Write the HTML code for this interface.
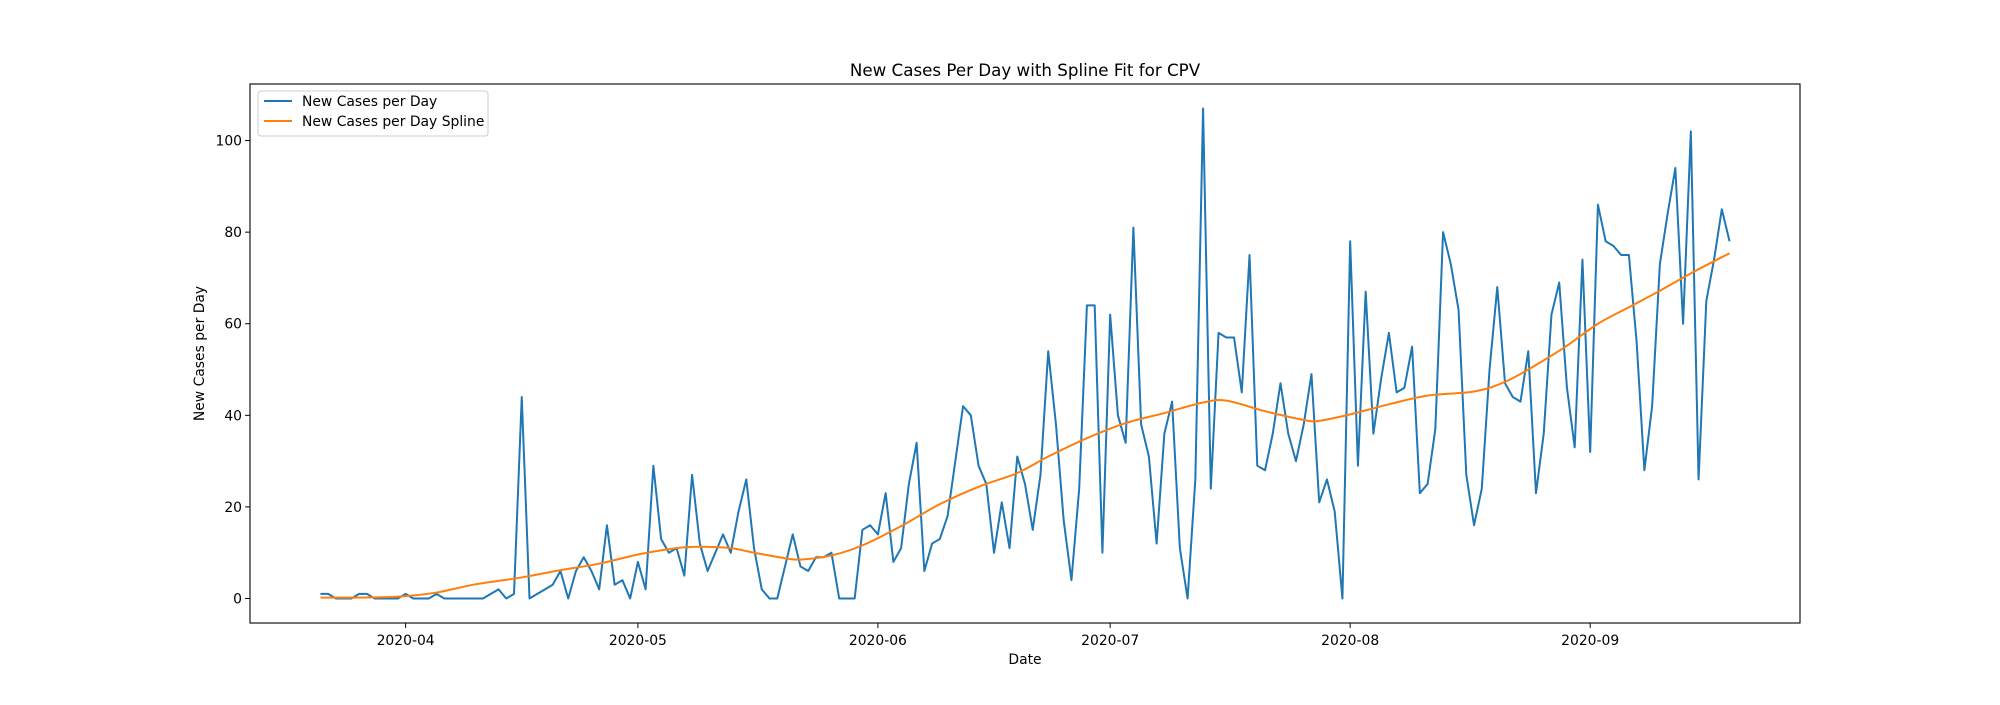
<!DOCTYPE html>
<html><head><meta charset="utf-8">
<style>
html,body{margin:0;padding:0;background:#fff;}
svg text{font-family:"DejaVu Sans","Liberation Sans",sans-serif;fill:#000;}
</style></head>
<body>
<svg id="chart" width="2000" height="700" viewBox="0 0 2000 700" xmlns="http://www.w3.org/2000/svg">
<rect x="0" y="0" width="2000" height="700" fill="#fff"/>
<text x="1025" y="76" font-size="16.7" text-anchor="middle">New Cases Per Day with Spline Fit for CPV</text>
<text x="1025" y="664" font-size="13.9" text-anchor="middle">Date</text>
<text x="0" y="0" font-size="13.9" text-anchor="middle" transform="translate(204,353.5) rotate(-90)">New Cases per Day</text>
<g id="grid"></g>
<g id="plot"></g>
<rect x="250" y="84" width="1550" height="539" fill="none" stroke="#000" stroke-width="1.1"/>
<g id="legend">
<rect x="258" y="91" width="230" height="45" rx="3" fill="#fff" fill-opacity="0.8" stroke="#ccc" stroke-width="1"/>
<line x1="264" y1="101" x2="292" y2="101" stroke="#1f77b4" stroke-width="2"/>
<text x="302" y="106" font-size="13.9">New Cases per Day</text>
<line x1="264" y1="121" x2="292" y2="121" stroke="#ff7f0e" stroke-width="2"/>
<text x="302" y="126" font-size="13.9">New Cases per Day Spline</text>
</g>
</svg>
<script>
// start date 2020-03-21 ; day offsets
const dailyCases = [
1,1,0,0,0,1,1,0,0,0,0,1,0,0,0,1,0,0,0,0,0,0,1,2,0,1,
44,0,1,2,3,6,0,6,9,6,2,16,3,4,0,8,2,29,13,10,11,5,27,12,6,10,14,10,19,26,11,2,0,0,7,14,
7,6,9,9,10,0,0,0,15,16,14,23,8,11,25,34,6,12,13,18,30,42,40,29,25,10,21,11,31,25,15,27,54,
38,17,4,24,64,64,10,62,40,34,81,38,31,12,36,43,11,0,26,107,24,58,57,57,45,75,29,28,36,47,36,30,38,49,21,26,19,0,
78,29,67,36,48,58,45,46,55,23,25,37,80,73,63,27,16,24,50,68,47,44,43,54,23,36,62,69,46,33,74,32,
86,78,77,75,75,56,28,42,73,84,94,60,102,26,65,74,85,78];
const splineDays = [0,5,10,15,20,26,31,36,41,46,49,53,56,60,62,66,70,75,80,85,90,94,99,104,109,114,117,122,127,129,133,138,143,149,153,157,161,165,169,173,177,182];
const splineVals = [0.2,0.2,0.4,1.3,3.1,4.6,6.2,7.6,9.6,11,11.3,11,10,8.8,8.5,9.4,11.6,15.8,20.6,24.4,27.4,31,35,38.3,40.5,42.8,43.2,40.9,39,38.8,40.2,42.4,44.3,45.2,47.3,51,55.2,60,63.6,67.2,71,75.4];
const yTicks = [0,20,40,60,80,100];
const xTickLabels = ["2020-04","2020-05","2020-06","2020-07","2020-08","2020-09"];
const xTickDays = [11,41,72,102,133,164];

const NS="http://www.w3.org/2000/svg";
const svg=document.getElementById('chart');
const grid=document.getElementById('grid');
const plot=document.getElementById('plot');
const X0=250,X1=1800,Y0=84,Y1=623;
const dMin=-9.1,dMax=191.1, vMin=-5.35, vMax=112.35;
function xs(d){return X0+(d-dMin)/(dMax-dMin)*(X1-X0);}
function ys(v){return Y1-(v-vMin)/(vMax-vMin)*(Y1-Y0);}
function mk(tag,attrs){const e=document.createElementNS(NS,tag);for(const k in attrs)e.setAttribute(k,attrs[k]);return e;}

yTicks.forEach(v=>{
  const y=ys(v);
  const t=mk('line',{x1:X0-4.9,x2:X0,y1:y,y2:y,stroke:'#000','stroke-width':1});
  
  
  grid.appendChild(t);
  const l=mk('text',{x:X0-8,y:y+5,'font-size':13.9,'text-anchor':'end'});
  
  
  l.textContent=v;grid.appendChild(l);
});
xTickDays.forEach((d,i)=>{
  const x=xs(d);
  const t=mk('line',{x1:x,x2:x,y1:Y1,y2:Y1+4.9,stroke:'#000','stroke-width':1});
  
  
  grid.appendChild(t);
  const l=mk('text',{x:x,y:Y1+22,'font-size':13.9,'text-anchor':'middle'});
  
  
  l.textContent=xTickLabels[i];grid.appendChild(l);
});

// daily line
let p='';
dailyCases.forEach((v,i)=>{p+=(i?'L':'M')+xs(i).toFixed(2)+' '+ys(v).toFixed(2);});
const daily=mk('path',{d:p,fill:'none',stroke:'#1f77b4','stroke-width':2,'stroke-linejoin':'round'});


plot.appendChild(daily);

// spline via Catmull-Rom
const pts=splineDays.map((d,i)=>[xs(d),ys(splineVals[i])]);
let s='M'+pts[0][0]+' '+pts[0][1];
for(let i=0;i<pts.length-1;i++){
  const p0=pts[Math.max(0,i-1)],p1=pts[i],p2=pts[i+1],p3=pts[Math.min(pts.length-1,i+2)];
  const c1=[p1[0]+(p2[0]-p0[0])/6,p1[1]+(p2[1]-p0[1])/6];
  const c2=[p2[0]-(p3[0]-p1[0])/6,p2[1]-(p3[1]-p1[1])/6];
  s+='C'+c1[0].toFixed(2)+' '+c1[1].toFixed(2)+' '+c2[0].toFixed(2)+' '+c2[1].toFixed(2)+' '+p2[0].toFixed(2)+' '+p2[1].toFixed(2);
}
const spl=mk('path',{d:s,fill:'none',stroke:'#ff7f0e','stroke-width':2});


plot.appendChild(spl);
</script>
</body></html>
